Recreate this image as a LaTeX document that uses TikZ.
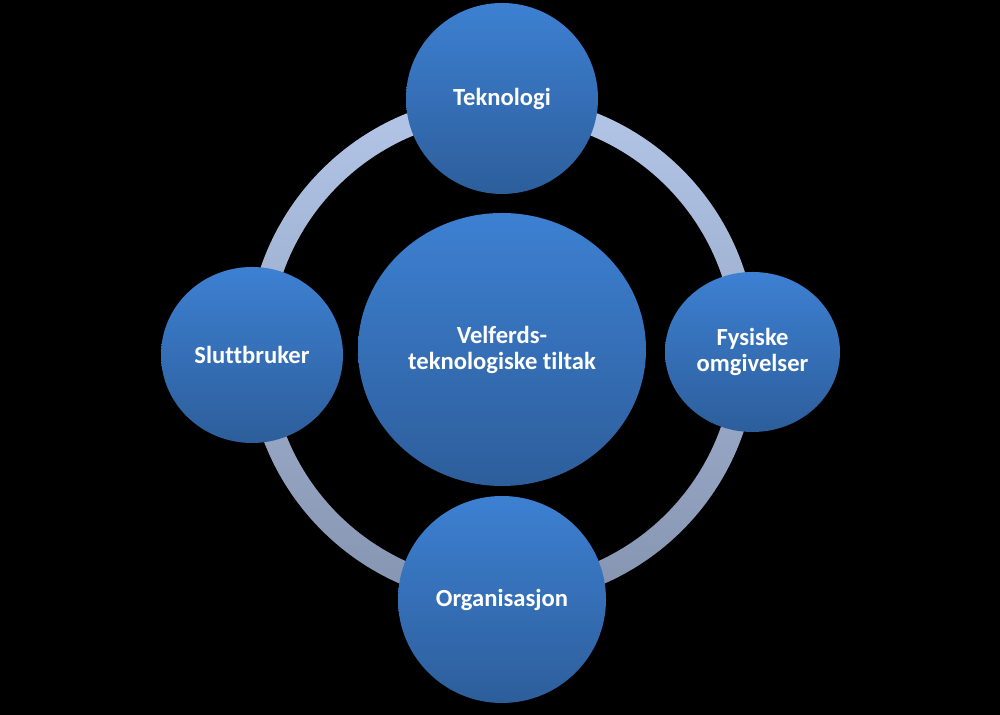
\documentclass[tikz,border=0pt]{standalone}
\usepackage{fontspec}
\setmainfont{Carlito}[Ligatures=CommonOff]
\usepackage{tikz}
\usepackage{xcolor}
\usetikzlibrary{shapes.geometric}
\definecolor{BlueTop}{HTML}{3D80D2}
\definecolor{BlueBottom}{HTML}{2D5E9B}
\definecolor{RingTop}{HTML}{B3C6E8}
\definecolor{RingBottom}{HTML}{8594B0}
\tikzset{
  bubble/.style={
    ellipse,inner sep=0pt,top color=BlueTop,bottom color=BlueBottom,
    align=center,text=white,font=\fontsize{14}{14.8}\selectfont\bfseries
  },
  ring/.style={
    even odd rule,top color=RingTop,bottom color=RingBottom
  }
}

\begin{document}
\begin{tikzpicture}
        \fill[black] (0,0) rectangle (20,14.3);
        \useasboundingbox (0,0) rectangle (20,14.3);
        \coordinate (hub) at (10.04,7.3);
        \path[ring] (hub) circle (5.1) (hub) circle (4.64);
        \node[bubble,minimum width=5.76cm,minimum height=5.46cm] (centre) at (10.04,7.31)
          {Velferds-\\teknologiske tiltak};
        \node[bubble,minimum width=3.84cm,minimum height=3.82cm] (tech) at (10.04,12.33) {Teknologi};
        \node[bubble,minimum width=3.64cm,minimum height=3.52cm] (user) at (5.04,7.2) {Sluttbruker};
        \node[bubble,minimum width=3.5cm,minimum height=3.2cm] (env) at (15.05,7.26)
          {Fysiske\\omgivelser};
        \node[bubble,minimum width=4.16cm,minimum height=4.14cm] (org) at (10.04,2.31) {Organisasjon};
      \end{tikzpicture}
\end{document}
